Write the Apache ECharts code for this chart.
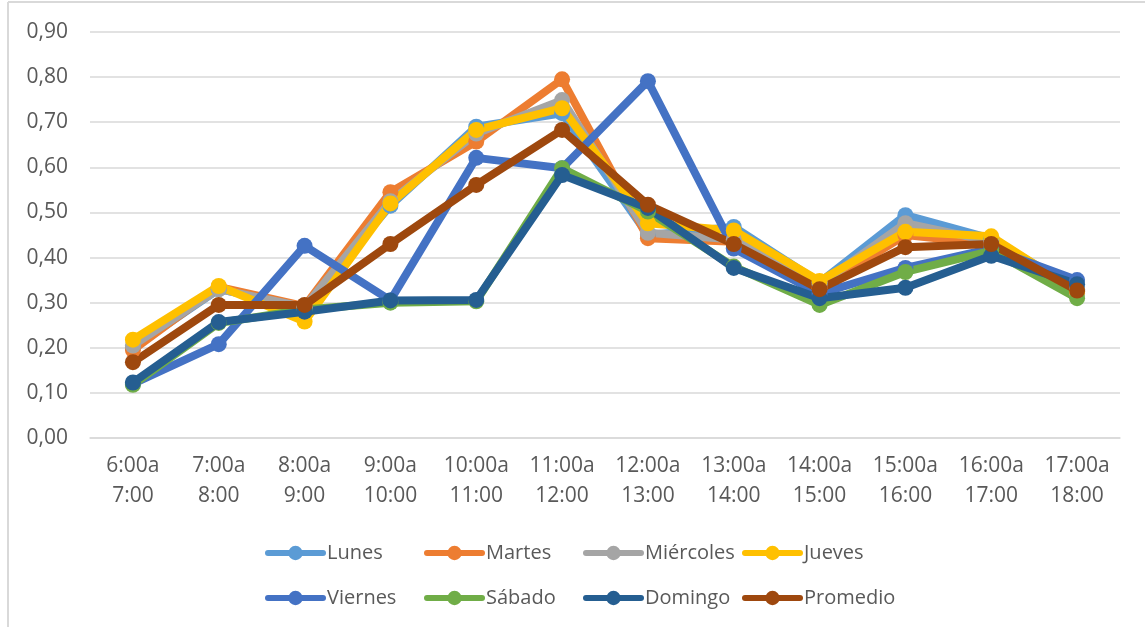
<!DOCTYPE html>
<html>
<head>
<meta charset="utf-8">
<title>Índice por hora</title>
<script src="https://cdn.jsdelivr.net/npm/echarts@6/dist/echarts.min.js"></script>
<style>
  html, body { margin: 0; padding: 0; background: #ffffff; }
  #chart { width: 1145px; height: 627px; }
</style>
</head>
<body>
<div id="chart"></div>
<script>
// Franjas horarias (eje X)
const categories = [
  '6:00a\n7:00', '7:00a\n8:00', '8:00a\n9:00', '9:00a\n10:00',
  '10:00a\n11:00', '11:00a\n12:00', '12:00a\n13:00', '13:00a\n14:00',
  '14:00a\n15:00', '15:00a\n16:00', '16:00a\n17:00', '17:00a\n18:00'
];

// Valores por día de la semana
const lunes     = [0.200, 0.330, 0.290, 0.515, 0.690, 0.720, 0.450, 0.468, 0.345, 0.494, 0.442, 0.330];
const martes    = [0.195, 0.335, 0.292, 0.545, 0.657, 0.795, 0.443, 0.435, 0.332, 0.450, 0.430, 0.325];
const miercoles = [0.205, 0.330, 0.290, 0.525, 0.675, 0.749, 0.455, 0.440, 0.340, 0.476, 0.436, 0.320];
const jueves    = [0.218, 0.337, 0.258, 0.520, 0.683, 0.731, 0.476, 0.460, 0.348, 0.457, 0.447, 0.325];
const viernes   = [0.120, 0.208, 0.426, 0.305, 0.621, 0.598, 0.791, 0.420, 0.320, 0.377, 0.420, 0.350];
const sabado    = [0.118, 0.255, 0.285, 0.300, 0.303, 0.598, 0.502, 0.380, 0.295, 0.368, 0.415, 0.310];
const domingo   = [0.123, 0.257, 0.280, 0.305, 0.306, 0.583, 0.510, 0.377, 0.310, 0.333, 0.404, 0.341];
const promedio  = [0.168, 0.295, 0.295, 0.430, 0.561, 0.683, 0.517, 0.430, 0.330, 0.423, 0.430, 0.327];

// Marcas del eje Y
const yMin = 0;
const yMax = 0.9;
const yStep = 0.1;

const seriesDefs = [
  { name: 'Lunes',     data: lunes,     color: '#5B9BD5' },
  { name: 'Martes',    data: martes,    color: '#ED7D31' },
  { name: 'Miércoles', data: miercoles, color: '#A5A5A5' },
  { name: 'Jueves',    data: jueves,    color: '#FFC000' },
  { name: 'Viernes',   data: viernes,   color: '#4472C4' },
  { name: 'Sábado',    data: sabado,    color: '#70AD47' },
  { name: 'Domingo',   data: domingo,   color: '#255E91' },
  { name: 'Promedio',  data: promedio,  color: '#9E480E' }
];

const textColor = '#595959';
const fontFamily = '"Open Sans", "Liberation Sans", sans-serif';
const lineW = 8;

// Leyenda en cuadrícula de 4 columnas x 2 filas
const legendCols = [265, 424, 583, 742];
const legendRows = [543, 588];
const legends = seriesDefs.map((s, i) => ({
  data: [s.name],
  left: legendCols[i % 4],
  top: legendRows[Math.floor(i / 4)],
  padding: 0,
  itemWidth: 55,
  itemHeight: 18,
  lineStyle: { width: 6, cap: 'round' },
  textStyle: { color: textColor, fontSize: 20, fontFamily: fontFamily, padding: [0, 0, 0, -1] }
}));

const chart = echarts.init(document.getElementById('chart'), null, { renderer: 'canvas' });

chart.setOption({
  backgroundColor: '#ffffff',
  animation: false,
  grid: { left: 90, right: 25, top: 32, bottom: 189, containLabel: false },
  xAxis: {
    type: 'category',
    data: categories,
    boundaryGap: true,
    axisLine: { show: true, lineStyle: { color: '#d9d9d9', width: 1.5 } },
    axisTick: { show: false },
    axisLabel: {
      color: textColor, fontSize: 21, fontFamily: fontFamily,
      lineHeight: 30, margin: 13, interval: 0
    }
  },
  yAxis: {
    type: 'value',
    min: yMin,
    max: yMax,
    interval: yStep,
    axisLine: { show: false },
    axisTick: { show: false },
    splitLine: { lineStyle: { color: '#d9d9d9', width: 1.5 } },
    axisLabel: {
      color: textColor, fontSize: 21, fontFamily: fontFamily, margin: 22,
      formatter: v => v.toFixed(2).replace('.', ',')
    }
  },
  legend: legends,
  graphic: [
    { type: 'line', shape: { x1: 8, y1: 2, x2: 1145, y2: 2 }, style: { stroke: '#d9d9d9', lineWidth: 2 }, silent: true },
    { type: 'line', shape: { x1: 8, y1: 2, x2: 8, y2: 627 }, style: { stroke: '#d9d9d9', lineWidth: 2 }, silent: true }
  ],
  series: seriesDefs.map(s => ({
    name: s.name,
    type: 'line',
    data: s.data,
    symbol: 'circle',
    symbolSize: 16,
    showSymbol: true,
    color: s.color,
    lineStyle: { color: s.color, width: lineW, cap: 'round', join: 'round' },
    itemStyle: { color: s.color, borderWidth: 0 },
    emphasis: { disabled: true }
  }))
});
</script>
</body>
</html>
